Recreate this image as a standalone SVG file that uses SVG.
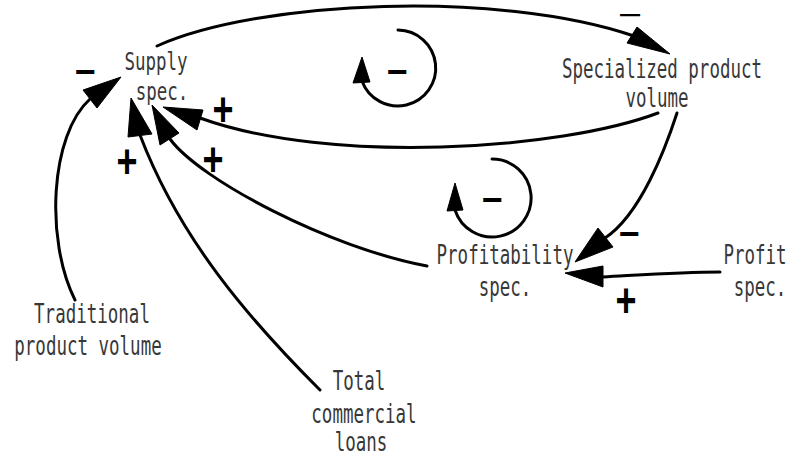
<svg xmlns="http://www.w3.org/2000/svg" width="788" height="458" viewBox="0 0 788 458">
<style>
.lbl{font-family:"DejaVu Sans Mono","Liberation Mono",monospace;font-size:17.5px;fill:#383838;text-anchor:middle}
.sgn{font-family:"Liberation Sans",Arial,sans-serif;font-weight:bold;fill:#000;text-anchor:middle}
.ln{fill:none;stroke:#000;stroke-width:3;stroke-linecap:round}
.ah{fill:#000;stroke:#000;stroke-width:1;stroke-linejoin:round}
</style>
<rect width="788" height="458" fill="#fff"/>
<g id="connectors">
  <path class="ln" d="M157,46 C260,0 500,-10 634,36"/>
  <polygon class="ah" points="670,54 637,27 627,43"/>
  <path class="ln" d="M658,113 C560,150 330,165 200,118"/>
  <polygon class="ah" points="163,107 203,110 197,130"/>
  <path class="ln" d="M75,300 C45,240 50,135 90,99"/>
  <polygon class="ah" points="121,77 83,90 97,108"/>
  <path class="ln" d="M320,390 C250,320 180,240 140,135"/>
  <polygon class="ah" points="131,98 128,137 152,134"/>
  <path class="ln" d="M427,266 C330,248 200,180 170,139"/>
  <polygon class="ah" points="152,105 160,145 179,133"/>
  <path class="ln" d="M677,113 C665,150 640,215 605,238"/>
  <polygon class="ah" points="575,262 598,228 613,247"/>
  <path class="ln" d="M720,272 C680,272 640,275 603,277"/>
  <polygon class="ah" points="565,273 603,266 603,287"/>
  <path class="ln" d="M398,30 A38,38 0 1 1 362,81"/>
  <polygon class="ah" points="362,57 353,83 370,82"/>
  <path class="ln" d="M492,159 A39,39 0 1 1 455,210"/>
  <polygon class="ah" points="455,183 447,211 463,210"/>
</g>
<g id="signs">
  <text class="sgn" font-size="20" transform="translate(630,22) scale(2,1)">−</text>
  <text class="sgn" font-size="36" x="85" y="84">−</text>
  <text class="sgn" font-size="36" x="397" y="84">−</text>
  <text class="sgn" font-size="36" x="492" y="212">−</text>
  <text class="sgn" font-size="36" x="629" y="246">−</text>
  <text class="sgn" font-size="36" transform="translate(223,126) scale(1,1.35)">+</text>
  <text class="sgn" font-size="36" transform="translate(127,178) scale(1,1.35)">+</text>
  <text class="sgn" font-size="36" transform="translate(213,176) scale(1,1.35)">+</text>
  <text class="sgn" font-size="36" transform="translate(626,317) scale(1,1.35)">+</text>
</g>
<g id="node-supply">
  <text class="lbl" transform="translate(156,70) scale(1,1.45)">Supply</text>
  <text class="lbl" transform="translate(162,100) scale(1,1.45)">spec.</text>
</g>
<g id="node-specialized">
  <text class="lbl" transform="translate(662,78) scale(1,1.5)">Specialized product</text>
  <text class="lbl" transform="translate(657,107) scale(1,1.5)">volume</text>
</g>
<g id="node-profitability">
  <text class="lbl" transform="translate(505,264) scale(1,1.5)">Profitability</text>
  <text class="lbl" transform="translate(505,296) scale(1,1.5)">spec.</text>
</g>
<g id="node-profit">
  <text class="lbl" transform="translate(755,264) scale(1,1.5)">Profit</text>
  <text class="lbl" transform="translate(760,296) scale(1,1.5)">spec.</text>
</g>
<g id="node-traditional">
  <text class="lbl" transform="translate(92,323) scale(1,1.5)">Traditional</text>
  <text class="lbl" transform="translate(88,355) scale(1,1.5)">product volume</text>
</g>
<g id="node-loans">
  <text class="lbl" transform="translate(359,390) scale(1,1.5)">Total</text>
  <text class="lbl" transform="translate(364,423) scale(1,1.5)">commercial</text>
  <text class="lbl" transform="translate(361,451) scale(1,1.5)">loans</text>
</g>
</svg>
